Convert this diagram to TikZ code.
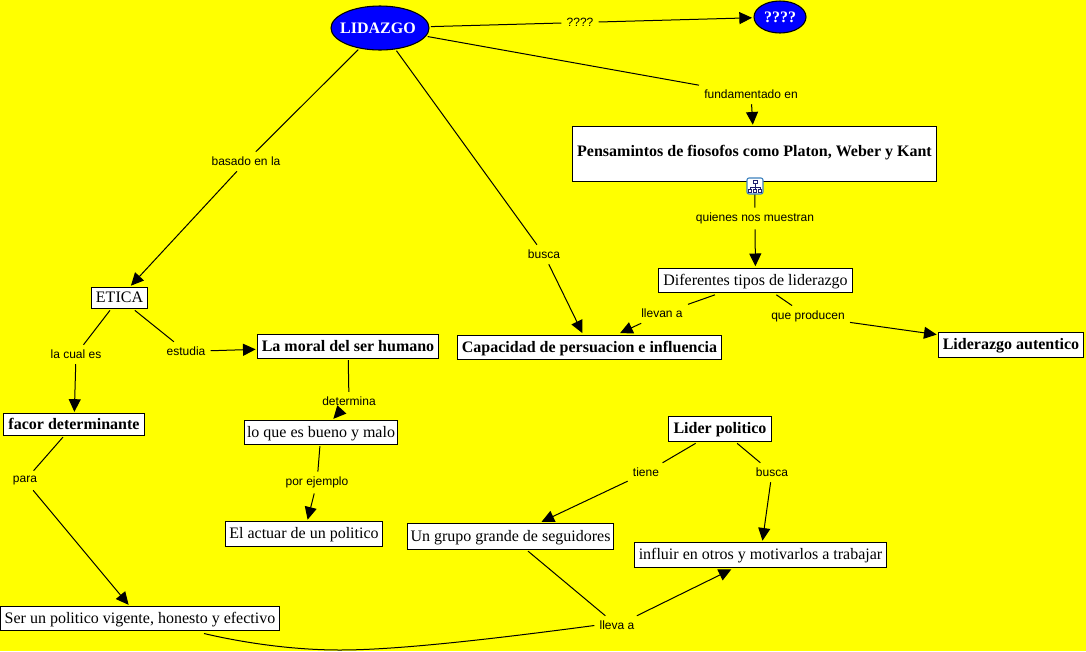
\documentclass[tikz,border=0pt]{standalone}
\usepackage{fontspec}
\setmainfont{Liberation Serif}
\newfontfamily\labelfont{Liberation Sans}
\usetikzlibrary{shapes.geometric,arrows.meta,calc}
\definecolor{mapbg}{RGB}{255,255,0}
\definecolor{ovalblue}{RGB}{0,0,255}
\definecolor{iconrim}{RGB}{60,130,190}
\definecolor{icontree}{RGB}{30,30,110}
\tikzset{
  x=0.75pt,y=-0.75pt,
  concept/.style={draw=black,fill=white,line width=0.75pt,inner sep=0pt,font=\fontsize{12pt}{14pt}\selectfont,align=center,outer sep=1.5pt,text height=9.2pt,text depth=2pt},
  boldconcept/.style={concept,font=\fontsize{12pt}{14pt}\selectfont\bfseries},
  oval/.style={ellipse,draw=black,fill=ovalblue,line width=0.8pt,inner sep=0pt,text=white,font=\fontsize{12pt}{14pt}\selectfont\bfseries,outer sep=1.5pt},
  linklabel/.style={inner sep=0pt,font=\labelfont\fontsize{9pt}{11pt}\selectfont,minimum width=0pt,outer sep=4pt},
  link/.style={draw=black,line width=0.75pt},
  arrowlink/.style={link,-{Triangle[length=9.5pt,width=9pt]}},
}
\begin{document}
\begin{tikzpicture}
\useasboundingbox (0,0) rectangle (1086,651);
\fill[mapbg] (0,0) rectangle (1086,651);

% concepts
\node[oval,minimum width=73.5pt,minimum height=33pt] (lid) at (380,28) {\makebox[0pt]{\kern-3pt LIDAZGO}};
\node[oval,minimum width=39pt,minimum height=24pt] (q) at (780,17) {\makebox[0pt]{????}};
\node[boldconcept,minimum width=273pt,minimum height=41pt] (pens) at (754.5,154) {\raisebox{2pt}{Pensamintos de fiosofos como Platon, Weber y Kant}};
\node[concept,minimum width=145pt,minimum height=18.5pt] (dif) at (755.5,280.5) {Diferentes tipos de liderazgo};
\node[boldconcept,minimum width=198pt,minimum height=18.5pt] (cap) at (589.5,347.5) {Capacidad de persuacion e influencia};
\node[boldconcept,minimum width=108.5pt,minimum height=18.5pt] (lau) at (1011,345) {Liderazgo autentico};
\node[concept,minimum width=41.5pt,minimum height=15.5pt] (eti) at (119.5,298) {ETICA};
\node[boldconcept,minimum width=135.5pt,minimum height=17.5pt] (mor) at (348,346.5) {La moral del ser humano};
\node[boldconcept,minimum width=105.5pt,minimum height=16pt] (fac) at (74,424.5) {facor determinante};
\node[concept,minimum width=114.5pt,minimum height=17.5pt] (bue) at (321,432.5) {lo que es bueno y malo};
\node[concept,minimum width=117.5pt,minimum height=18.5pt] (act) at (304,534) {El actuar de un politico};
\node[boldconcept,minimum width=77pt,minimum height=18.5pt] (lpo) at (720,429) {Lider politico};
\node[concept,minimum width=154pt,minimum height=19pt] (gru) at (510.5,536.5) {Un grupo grande de seguidores};
\node[concept,minimum width=188.5pt,minimum height=18.5pt] (inf) at (760.5,555) {influir en otros y motivarlos a trabajar};
\node[concept,minimum width=209pt,minimum height=17.5pt] (ser) at (140,618.5) {Ser un politico vigente, honesto y efectivo};

% link labels
\node[linklabel] (l1) at (580,22.5) {????};
\node[linklabel] (l2) at (751,94.5) {fundamentado en};
\node[linklabel] (l3) at (246,161.5) {basado en la};
\node[linklabel] (l4) at (544,254.5) {busca};
\node[linklabel] (l5) at (755,218.5) {quienes nos muestran};
\node[linklabel] (l6) at (662,313.5) {llevan a};
\node[linklabel] (l7) at (808,316.5) {que producen};
\node[linklabel] (l8) at (76,354.5) {la cual es};
\node[linklabel] (l9) at (186,351.5) {estudia};
\node[linklabel] (l10) at (349,401.5) {determina};
\node[linklabel] (l11) at (317,482.5) {por ejemplo};
\node[linklabel] (l12) at (25,480.5) {para};
\node[linklabel] (l13) at (646,472.5) {tiene};
\node[linklabel] (l14) at (772,472.5) {busca};
\node[linklabel] (l15) at (617,625.5) {lleva a};

% connectors
\draw[link] (lid) -- (l1);
\draw[arrowlink] (l1) -- (q);
\draw[link] (lid) -- (l2);
\draw[arrowlink] (l2) -- (pens);
\draw[link] (lid) -- (l3);
\draw[arrowlink] (l3) -- (eti);
\draw[link] (lid) -- (l4);
\draw[arrowlink] (l4) -- (cap);
\draw[link] (pens) -- (l5);
\draw[arrowlink] (l5) -- (dif);
\draw[link] (dif) -- (l6);
\draw[arrowlink] (l6) -- (cap);
\draw[link] (dif) -- (l7);
\draw[arrowlink] (l7) -- (lau);
\draw[link] (eti) -- (l8);
\draw[arrowlink] (l8) -- (fac);
\draw[link] (eti) -- (l9);
\draw[arrowlink] (l9) -- (mor);
\draw[link] (mor) -- (l10);
\draw[arrowlink] (l10) -- (bue);
\draw[link] (bue) -- (l11);
\draw[arrowlink] (l11) -- (act);
\draw[link] (fac) -- (l12);
\draw[arrowlink] (l12) -- (ser);
\draw[link] (lpo) -- (l13);
\draw[arrowlink] (l13) -- (gru);
\draw[link] (lpo) -- (l14);
\draw[arrowlink] (l14) -- (inf);
\draw[link] (gru) -- (l15);
\draw[arrowlink] (l15) -- (inf);
\draw[link] (l15.west) .. controls (500,638) and (400,650) .. (340,650) .. controls (290,650) and (240,642) .. ([xshift=48pt,yshift=-1pt]ser.south);

% nested-map icon
\begin{scope}[shift={(755,186)}]
\draw[draw=iconrim,fill=white,rounded corners=1.5pt,line width=0.8pt] (-8,-8) rectangle (8,8);
\draw[draw=icontree,line width=0.5pt] (0,-3) -- (0,3) (-5,1) -- (5,1) (-5,1) -- (-5,3) (5,1) -- (5,3);
\draw[draw=icontree,fill=white,line width=0.5pt] (-2,-6) rectangle (2,-3) (-6.5,3) rectangle (-3.5,6) (-1.5,3) rectangle (1.5,6) (3.5,3) rectangle (6.5,6);
\end{scope}
\end{tikzpicture}
\end{document}
